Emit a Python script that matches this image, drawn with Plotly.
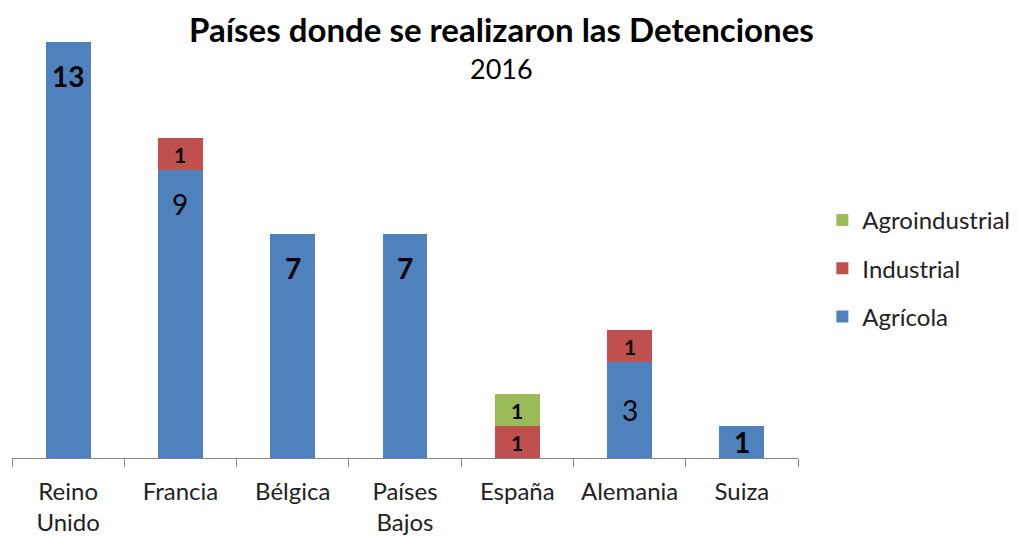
import plotly.graph_objects as go

categories = ["Reino<br>Unido", "Francia", "Bélgica", "Países<br>Bajos", "España", "Alemania", "Suiza"]
agricola = [13, 9, 7, 7, 0, 3, 1]
industrial = [0, 1, 0, 0, 1, 1, 0]
agroindustrial = [0, 0, 0, 0, 1, 0, 0]
agricola_bold = [True, False, True, True, False, False, True]

font_family = "Lato, 'Open Sans', sans-serif"

fig = go.Figure()
fig.add_trace(go.Bar(name="Agrícola", x=categories, y=agricola, marker_color="#4F81BD",
                     legendgroup="a", legendrank=3, marker_line_width=0))
fig.add_trace(go.Bar(name="Industrial", x=categories, y=industrial, marker_color="#C0504D",
                     legendgroup="b", legendrank=2, marker_line_width=0))
fig.add_trace(go.Bar(name="Agroindustrial", x=categories, y=agroindustrial, marker_color="#9BBB59",
                     legendgroup="c", legendrank=1, marker_line_width=0))

annotations = [
    dict(text="<b>Países donde se realizaron las Detenciones</b>", xref="paper", yref="paper",
         x=0.623, y=1.0817, xanchor="center", yanchor="top", showarrow=False, borderpad=0,
         font=dict(size=33, color="black")),
    dict(text="2016", xref="paper", yref="paper",
         x=0.623, y=0.937, xanchor="center", yanchor="middle", showarrow=False,
         font=dict(size=27, color="black")),
]

# data labels (positions derived from the stacked values)
for i, c in enumerate(categories):
    a = agricola[i]
    if a:
        ylab = a - 1.05 if a > 4 else a / 2
        txt = f"<b>{a}</b>" if agricola_bold[i] else str(a)
        annotations.append(dict(text=txt, x=c, y=ylab, xref="x", yref="y", showarrow=False,
                                font=dict(size=28, color="black"), yanchor="middle"))
    base = a
    for vals in (industrial, agroindustrial):
        v = vals[i]
        if v:
            annotations.append(dict(text=f"<b>{v}</b>", x=c, y=base + v / 2, xref="x", yref="y",
                                    showarrow=False, font=dict(size=21, color="black"),
                                    yanchor="middle"))
        base += v

fig.update_layout(
    barmode="stack",
    bargap=0.6,
    width=1018, height=537,
    margin=dict(l=4, r=228, t=34, b=87),
    paper_bgcolor="white", plot_bgcolor="white",
    font=dict(family=font_family, color="#222222", size=20),
    showlegend=True,
    legend=dict(x=1.031, y=0.625, xanchor="left", yanchor="top",
                traceorder="grouped", tracegroupgap=14,
                font=dict(size=24, color="#222222")),
    annotations=annotations,
)
fig.update_xaxes(showline=True, linecolor="#868686", linewidth=1,
                 ticks="outside", tickson="boundaries", ticklen=8, tickcolor="#868686",
                 ticklabelstandoff=12,
                 tickfont=dict(size=24, color="#222222"), showgrid=False)
fig.update_yaxes(range=[0, 13], visible=False, showgrid=False)

fig.write_html("out.html")
